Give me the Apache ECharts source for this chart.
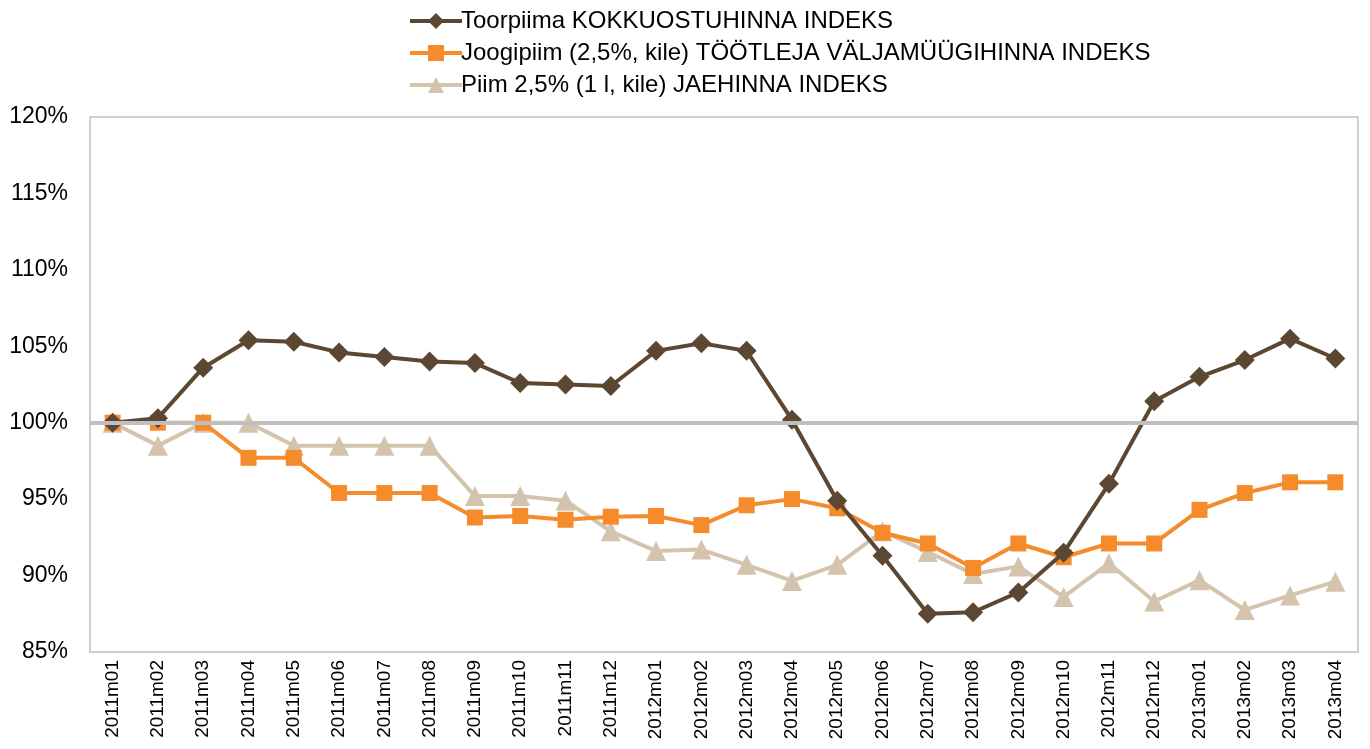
<!DOCTYPE html>
<html>
<head>
<meta charset="utf-8">
<script src="https://cdn.jsdelivr.net/npm/echarts@6/dist/echarts.min.js"></script>
<style>
  html, body { margin: 0; padding: 0; background: #fff; }
  #chart { width: 1370px; height: 749px; }
</style>
</head>
<body>
<div id="chart"></div>
<script>
// kuud
const months = ['2011m01','2011m02','2011m03','2011m04','2011m05','2011m06','2011m07','2011m08','2011m09','2011m10','2011m11','2011m12',
  '2012m01','2012m02','2012m03','2012m04','2012m05','2012m06','2012m07','2012m08','2012m09','2012m10','2012m11','2012m12',
  '2013m01','2013m02','2013m03','2013m04'];

// indeksid, %
const toorpiim = [100.0,100.3,103.6,105.4,105.3,104.6,104.3,104.0,103.9,102.6,102.5,102.4,
  104.7,105.2,104.7,100.2,94.9,91.3,87.5,87.6,88.9,91.5,96.0,101.4,103.0,104.1,105.5,104.2];
const joogipiim = [100.0,100.0,100.0,97.7,97.7,95.4,95.4,95.4,93.8,93.9,93.65,93.85,
  93.9,93.3,94.6,95.0,94.4,92.8,92.1,90.5,92.1,91.2,92.1,92.1,94.3,95.4,96.1,96.1];
const piim = [100.0,98.5,100.0,100.0,98.5,98.5,98.5,98.5,95.2,95.2,94.9,92.9,
  91.6,91.7,90.7,89.65,90.7,92.9,91.55,90.1,90.6,88.6,90.8,88.3,89.7,87.75,88.7,89.6];

const names = ['Toorpiima KOKKUOSTUHINNA INDEKS',
  'Joogipiim (2,5%, kile) TÖÖTLEJA VÄLJAMÜÜGIHINNA INDEKS',
  'Piim 2,5% (1 l, kile) JAEHINNA INDEKS'];

const chart = echarts.init(document.getElementById('chart'));

const option = {
  animation: false,
  textStyle: { fontFamily: 'Liberation Sans, Arial, sans-serif' },
  legend: {
    orient: 'vertical',
    left: 403,
    top: 4,
    itemWidth: 52,
    itemHeight: 20,
    itemGap: 8,
    lineStyle: { width: 4 },
    textStyle: { fontSize: 24, color: '#000', padding: [0, 0, 0, -6] },
    data: names
  },
  grid: {
    left: 90, right: 12, top: 117, bottom: 97,
    show: true, borderColor: '#bfbfbf', borderWidth: 1.5
  },
  xAxis: {
    type: 'category',
    data: months,
    boundaryGap: true,
    axisLine: { show: false },
    axisTick: { show: false },
    axisLabel: { rotate: 90, fontSize: 19, color: '#000', margin: 8 }
  },
  yAxis: {
    type: 'value',
    min: 85, max: 120, interval: 5,
    axisLine: { show: false },
    axisTick: { show: false },
    splitLine: { show: false },
    axisLabel: { formatter: '{value}%', fontSize: 23, color: '#000', margin: 22 }
  },
  series: [
    {
      name: names[0], type: 'line', data: toorpiim,
      symbol: 'diamond', symbolSize: 20, z: 4,
      lineStyle: { width: 4, color: '#5c4733' },
      itemStyle: { color: '#5c4733' },
      markLine: {
        silent: true, symbol: 'none', label: { show: false },
        lineStyle: { color: '#bfbfbf', width: 4, type: 'solid' },
        data: [{ yAxis: 100 }]
      }
    },
    {
      name: names[1], type: 'line', data: joogipiim,
      symbol: 'rect', symbolSize: 16, z: 3,
      lineStyle: { width: 4, color: '#f68b2c' },
      itemStyle: { color: '#f68b2c' }
    },
    {
      name: names[2], type: 'line', data: piim,
      symbol: 'triangle', symbolSize: 20, z: 2,
      lineStyle: { width: 4, color: '#d5c4ad' },
      itemStyle: { color: '#d5c4ad' }
    }
  ]
};

chart.setOption(option);
</script>
</body>
</html>
